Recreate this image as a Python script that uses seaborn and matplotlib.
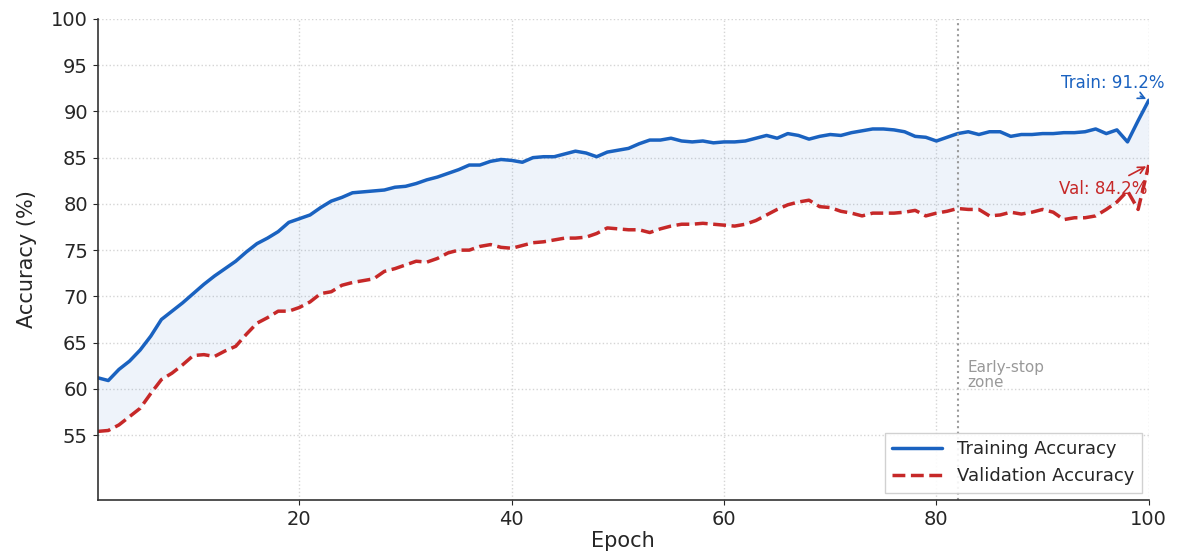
import pandas as pd
import seaborn as sns
import matplotlib.pyplot as plt

epochs = list(range(1, 101))

train_acc = [
    61.2, 60.9, 62.1, 63.0, 64.2, 65.7, 67.5, 68.4, 69.3, 70.3,
    71.3, 72.2, 73.0, 73.8, 74.8, 75.7, 76.3, 77.0, 78.0, 78.4,
    78.8, 79.6, 80.3, 80.7, 81.2, 81.3, 81.4, 81.5, 81.8, 81.9,
    82.2, 82.6, 82.9, 83.3, 83.7, 84.2, 84.2, 84.6, 84.8, 84.7,
    84.5, 85.0, 85.1, 85.1, 85.4, 85.7, 85.5, 85.1, 85.6, 85.8,
    86.0, 86.5, 86.9, 86.9, 87.1, 86.8, 86.7, 86.8, 86.6, 86.7,
    86.7, 86.8, 87.1, 87.4, 87.1, 87.6, 87.4, 87.0, 87.3, 87.5,
    87.4, 87.7, 87.9, 88.1, 88.1, 88.0, 87.8, 87.3, 87.2, 86.8,
    87.2, 87.6, 87.8, 87.5, 87.8, 87.8, 87.3, 87.5, 87.5, 87.6,
    87.6, 87.7, 87.7, 87.8, 88.1, 87.6, 88.0, 86.7, 89.0, 91.2,
]

val_acc = [
    55.4, 55.5, 56.1, 57.0, 57.9, 59.5, 61.0, 61.7, 62.6, 63.6,
    63.7, 63.5, 64.1, 64.6, 65.9, 67.1, 67.7, 68.4, 68.4, 68.8,
    69.4, 70.3, 70.5, 71.2, 71.5, 71.7, 71.9, 72.7, 73.0, 73.4,
    73.8, 73.7, 74.1, 74.7, 75.0, 75.0, 75.4, 75.6, 75.3, 75.2,
    75.5, 75.8, 75.9, 76.1, 76.3, 76.3, 76.4, 76.8, 77.4, 77.3,
    77.2, 77.2, 76.9, 77.3, 77.6, 77.8, 77.8, 77.9, 77.8, 77.7,
    77.6, 77.8, 78.2, 78.8, 79.4, 79.9, 80.2, 80.4, 79.7, 79.6,
    79.2, 79.0, 78.7, 79.0, 79.0, 79.0, 79.1, 79.3, 78.7, 79.0,
    79.2, 79.5, 79.4, 79.4, 78.7, 78.8, 79.1, 78.9, 79.1, 79.4,
    79.1, 78.3, 78.5, 78.5, 78.7, 79.4, 80.2, 81.4, 79.4, 84.2,
]

early_stop_epoch = 82
blue = '#1a62c0'
red = '#c62828'

df = pd.DataFrame({'epoch': epochs, 'train': train_acc, 'val': val_acc})

sns.set_style('ticks')
fig = plt.figure(figsize=(11.77, 5.56), dpi=100)
ax = fig.add_axes([0.083, 0.101, 0.893, 0.865])

# shaded gap between the two curves
ax.fill_between(df['epoch'], df['val'], df['train'], color=blue, alpha=0.07, linewidth=0)
sns.lineplot(data=df, x='epoch', y='train', ax=ax, color=blue, linewidth=2.5,
             label='Training Accuracy')
sns.lineplot(data=df, x='epoch', y='val', ax=ax, color=red, linewidth=2.5,
             linestyle='--', label='Validation Accuracy')

ax.axvline(early_stop_epoch, color='#999999', linestyle=':', linewidth=1.5)
ax.text(early_stop_epoch + 0.9, 61.5, 'Early-stop\nzone', color='#999999',
        fontsize=11, va='center', ha='left', linespacing=1.0)

ax.annotate(f'Train: {train_acc[-1]:.1f}%', xy=(epochs[-1], train_acc[-1]),
            xytext=(96.6, 93.1), color=blue, fontsize=12, ha='center', va='center',
            arrowprops=dict(arrowstyle='->', color=blue, lw=1.2))
ax.annotate(f'Val: {val_acc[-1]:.1f}%', xy=(epochs[-1], val_acc[-1]),
            xytext=(95.7, 81.6), color=red, fontsize=12, ha='center', va='center',
            arrowprops=dict(arrowstyle='->', color=red, lw=1.2))

ax.set_xlim(1, 100)
ax.set_ylim(48, 100)
ax.set_yticks(range(55, 101, 5))
ax.set_xticks([20, 40, 60, 80, 100])
ax.set_xlabel('Epoch', fontsize=15, labelpad=2)
ax.set_ylabel('Accuracy (%)', fontsize=15, labelpad=10)
ax.tick_params(labelsize=14)
ax.grid(True, linestyle=':', color='#d5d5d5', linewidth=1)
sns.despine(ax=ax)
for s in ['left', 'bottom']:
    ax.spines[s].set_color('#333333')
    ax.spines[s].set_linewidth(1.2)

ax.legend(loc='lower right', fontsize=13, frameon=True, framealpha=0.9,
          edgecolor='#cccccc', fancybox=False, handlelength=2.8,
          borderaxespad=0.4)

plt.savefig('out.png', dpi=100)
plt.close()
